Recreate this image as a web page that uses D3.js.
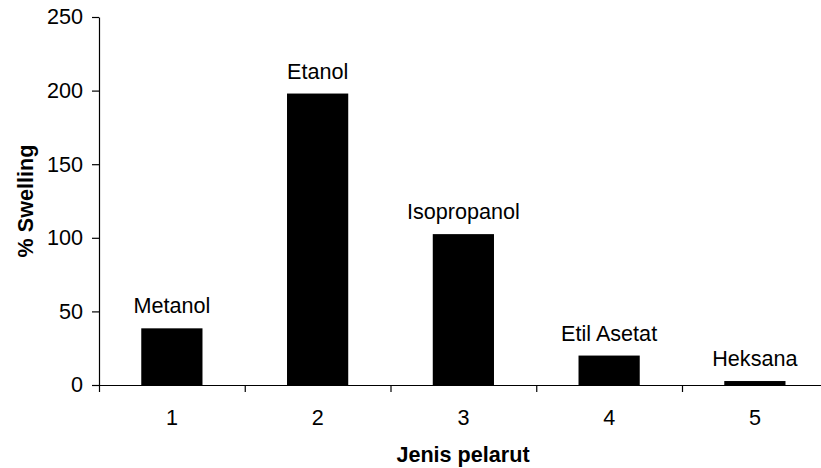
<!DOCTYPE html>
<html>
<head>
<meta charset="utf-8">
<script src="https://cdn.jsdelivr.net/npm/d3@7"></script>
<style>
  html, body { margin: 0; padding: 0; background: #fff; }
  svg { display: block; }
  text { font-family: "Liberation Sans", Arial, sans-serif; fill: #000; }
</style>
</head>
<body>
<div id="chart"></div>
<script>
const categories = ["1", "2", "3", "4", "5"];
const solvents = ["Metanol", "Etanol", "Isopropanol", "Etil Asetat", "Heksana"];
const swelling = [38.5, 198, 102.5, 20, 2.7];
const yTicks = [0, 50, 100, 150, 200, 250];
const xTitle = "Jenis pelarut";
const yTitle = "% Swelling";

const W = 821, H = 468;
const mLeft = 99, mRight = 827.75, mTop = 17, mBottom = 385;
const fs = 21.6;

const svg = d3.select("#chart").append("svg").attr("width", W).attr("height", H);

const x = d3.scaleBand().domain(categories).range([mLeft, mRight]).padding(0);
const y = d3.scaleLinear().domain([0, 250]).range([mBottom, mTop]);
const xb = d3.scaleLinear().domain([0, categories.length]).range([mLeft, mRight]);

const barW = x.bandwidth() * 0.42;

// bars
svg.append("g").selectAll("rect").data(categories).join("rect")
  .attr("x", (d) => x(d) + (x.bandwidth() - barW) / 2)
  .attr("y", (d, i) => y(swelling[i]))
  .attr("width", barW)
  .attr("height", (d, i) => y(0) - y(swelling[i]))
  .attr("fill", "#000");

// bar labels
svg.append("g").selectAll("text").data(categories).join("text")
  .attr("x", (d) => x(d) + x.bandwidth() / 2)
  .attr("y", (d, i) => y(swelling[i]) - 15)
  .attr("text-anchor", "middle")
  .style("font-size", fs + "px")
  .text((d, i) => solvents[i]);

// y axis
const yAxis = svg.append("g").attr("transform", `translate(${mLeft},0)`)
  .call(d3.axisLeft(y).tickValues(yTicks).tickSize(7).tickPadding(9).tickSizeOuter(0));
yAxis.selectAll("text").style("font-size", fs + "px").attr("fill", "#000");
yAxis.selectAll("line, path").attr("stroke", "#000").attr("stroke-width", 1.2);

// x axis: tick marks at boundaries
const xAxisTicks = svg.append("g").attr("transform", `translate(0,${mBottom})`)
  .call(d3.axisBottom(xb).tickValues(d3.range(0, categories.length + 1)).tickSize(7).tickSizeOuter(0).tickFormat(""));
xAxisTicks.selectAll("line, path").attr("stroke", "#000").attr("stroke-width", 1.2);

// x axis labels at centers
const xAxisLabels = svg.append("g").attr("transform", `translate(0,${mBottom})`)
  .call(d3.axisBottom(x).tickSize(0).tickPadding(25));
xAxisLabels.select(".domain").remove();
xAxisLabels.selectAll("text").style("font-size", fs + "px").attr("fill", "#000");

// titles
svg.append("text")
  .attr("x", 463).attr("y", 462)
  .attr("text-anchor", "middle")
  .style("font-size", fs + "px").style("font-weight", "bold")
  .text(xTitle);

svg.append("text")
  .attr("transform", `translate(33,${(mTop + mBottom) / 2}) rotate(-90)`)
  .attr("text-anchor", "middle")
  .style("font-size", fs + "px").style("font-weight", "bold")
  .text(yTitle);
</script>
</body>
</html>
